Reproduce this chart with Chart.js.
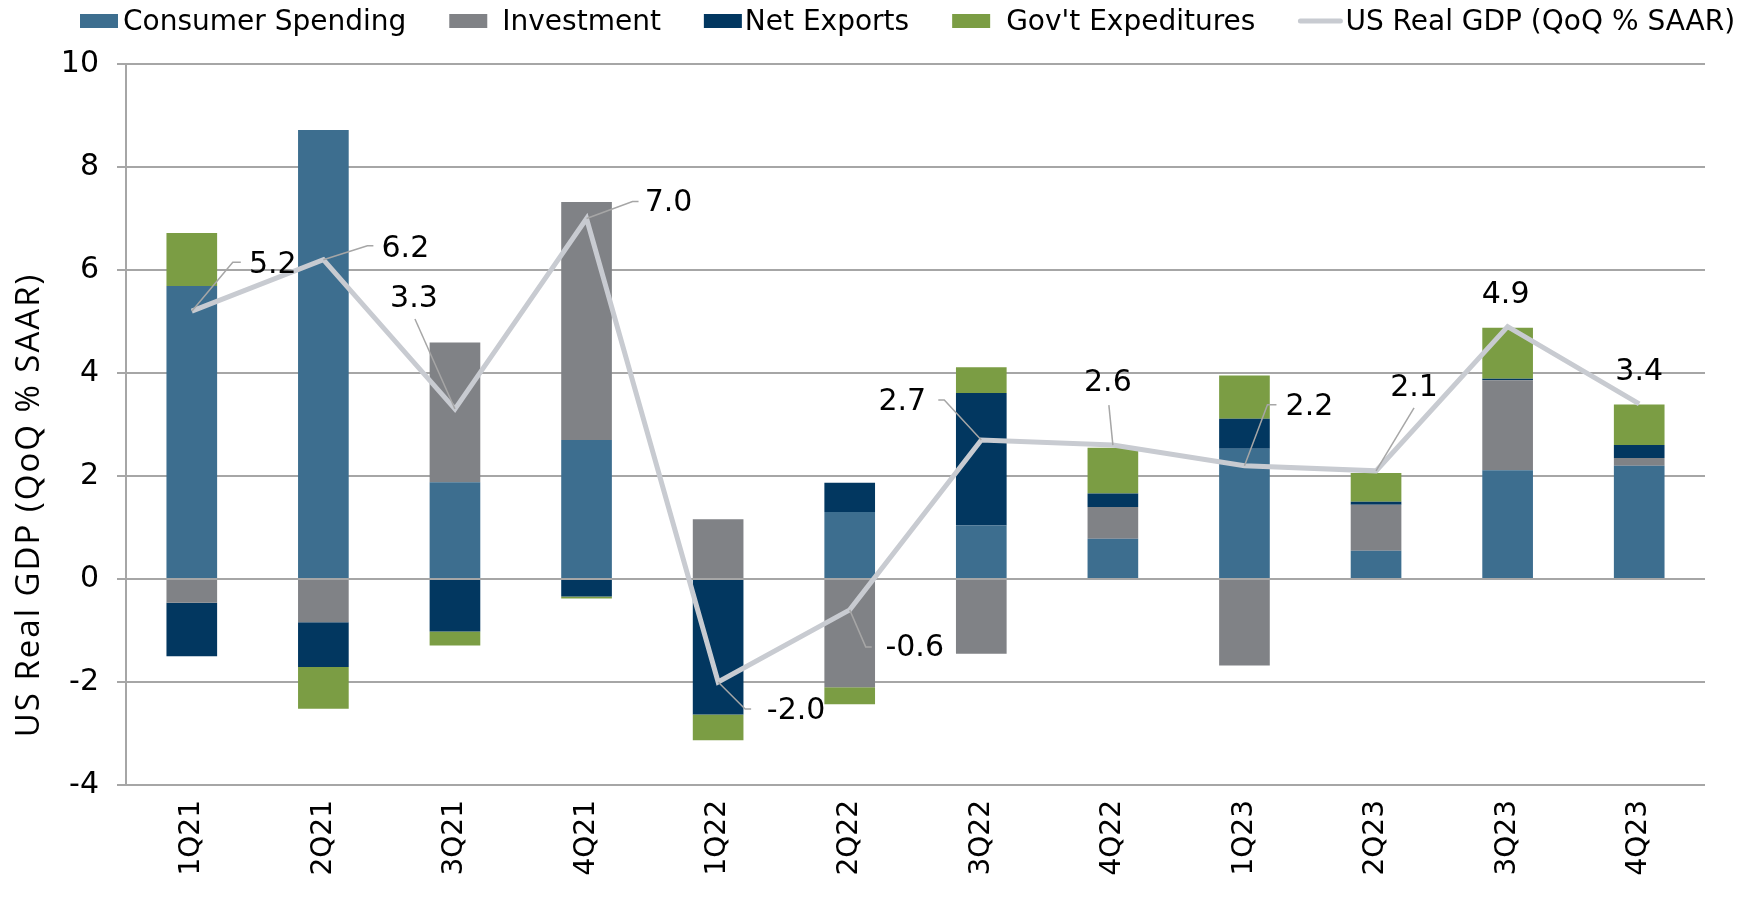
<!DOCTYPE html>
<html>
<head>
<meta charset="utf-8">
<title>US Real GDP contributions</title>
<script src="https://cdn.jsdelivr.net/npm/chart.js@4.4.1/dist/chart.umd.min.js"></script>
<style>
  html, body { margin: 0; padding: 0; background: #fff; }
  canvas { display: block; }
</style>
</head>
<body>
<canvas id="gdpChart" width="1764" height="897"></canvas>
<script>
const quarters = ["1Q21", "2Q21", "3Q21", "4Q21", "1Q22", "2Q22", "3Q22", "4Q22", "1Q23", "2Q23", "3Q23", "4Q23"];

// contributions to growth, percentage points
const consumer = [5.69, 8.72, 1.88, 2.70, 0, 1.30, 1.04, 0.78, 2.53, 0.55, 2.11, 2.20];
const investment = [-0.46, -0.84, 2.71, 4.62, 1.16, -2.10, -1.45, 0.62, -1.68, 0.89, 1.75, 0.15];
const netExports = [-1.04, -0.87, -1.02, -0.34, -2.63, 0.57, 2.57, 0.26, 0.58, 0.06, 0.03, 0.25];
const govSpending = [1.03, -0.81, -0.27, -0.04, -0.50, -0.33, 0.50, 0.89, 0.84, 0.56, 0.99, 0.79];
const realGdp = [5.2, 6.2, 3.3, 7.0, -2.0, -0.6, 2.7, 2.6, 2.2, 2.1, 4.9, 3.4];

const yTicks = [-4, -2, 0, 2, 4, 6, 8, 10];

// where each GDP label sits relative to its point, plus its leader line
const labelSpots = [
  { dx: 81, dy: -46, leader: [[41, -49], [49, -49]] },
  { dx: 82, dy: -10, leader: [[44, -14], [50, -14]] },
  { dx: -41, dy: -110, leader: [[-40, -90]] },
  { dx: 82, dy: -15, leader: [[46, -17], [52, -17]] },
  { dx: 78, dy: 29, leader: [[27, 27], [33, 27]] },
  { dx: 65, dy: 38, leader: [[16, 37], [22, 37]] },
  { dx: -79, dy: -38, leader: [[-37, -40], [-43, -40]] },
  { dx: -5, dy: -62, leader: [[-4, -40]] },
  { dx: 65, dy: -58, leader: [[23, -61], [32, -61]] },
  { dx: 38, dy: -83, leader: [[38, -63]] },
  { dx: -2, dy: -31, leader: null },
  { dx: 0, dy: -32, leader: null },
];

Chart.defaults.font.family = "'DejaVu Sans', Verdana, sans-serif";
Chart.defaults.color = "#000";

const gridGrey = "#a6a6a6";

const legendPlugin = {
  id: "topLegend",
  afterDraw(chart) {
    const ctx = chart.ctx;
    const gaps = [5, 15, 3, 16, 3];
    let x = 80;
    const y = 21;
    ctx.save();
    ctx.font = "28px 'DejaVu Sans'";
    ctx.textBaseline = "middle";
    ctx.textAlign = "left";
    chart.data.datasets.forEach((ds, i) => {
      if (ds.type === "line") {
        ctx.strokeStyle = ds.borderColor;
        ctx.lineWidth = 5;
        ctx.lineCap = "round";
        ctx.beginPath();
        ctx.moveTo(x + 2, y);
        ctx.lineTo(x + 42, y);
        ctx.stroke();
        x += 44;
      } else {
        ctx.fillStyle = ds.backgroundColor;
        ctx.fillRect(x, y - 7, 38, 14);
        x += 38;
      }
      x += gaps[i];
      ctx.fillStyle = "#000";
      ctx.fillText(ds.label, x, y + 2);
      x += ctx.measureText(ds.label).width + 43;
    });
    ctx.restore();
  },
};

const labelPlugin = {
  id: "gdpLabels",
  afterDatasetsDraw(chart) {
    const ctx = chart.ctx;
    const idx = chart.data.datasets.findIndex(d => d.type === "line");
    const meta = chart.getDatasetMeta(idx);
    ctx.save();
    ctx.font = "30px 'DejaVu Sans'";
    ctx.textAlign = "center";
    ctx.textBaseline = "middle";
    meta.data.forEach((pt, i) => {
      const spot = labelSpots[i];
      if (spot.leader) {
        ctx.strokeStyle = gridGrey;
        ctx.lineWidth = 1.5;
        ctx.beginPath();
        ctx.moveTo(pt.x, pt.y);
        spot.leader.forEach(p => ctx.lineTo(pt.x + p[0], pt.y + p[1]));
        ctx.stroke();
      }
      ctx.fillStyle = "#000";
      ctx.fillText(realGdp[i].toFixed(1), pt.x + spot.dx, pt.y + spot.dy);
    });

    // y axis title
    ctx.translate(30, 505);
    ctx.rotate(-Math.PI / 2);
    ctx.font = "33px 'Open Sans'";
    ctx.letterSpacing = "2px";
    ctx.fillText("US Real GDP (QoQ % SAAR)", 0, 0);
    ctx.restore();
  },
};

new Chart(document.getElementById("gdpChart"), {
  type: "bar",
  data: {
    labels: quarters,
    datasets: [
      {
        label: "Consumer Spending",
        data: consumer,
        backgroundColor: "#3d6e8f",
        order: 1,
      },
      {
        label: "Investment",
        data: investment,
        backgroundColor: "#808286",
        order: 1,
      },
      {
        label: "Net Exports",
        data: netExports,
        backgroundColor: "#023760",
        order: 1,
      },
      {
        label: "Gov't Expeditures",
        data: govSpending,
        backgroundColor: "#7b9d44",
        order: 1,
      },
      {
        type: "line",
        label: "US Real GDP (QoQ % SAAR)",
        data: realGdp,
        borderColor: "#c8cbd1",
        backgroundColor: "#c8cbd1",
        borderWidth: 5,
        pointRadius: 0,
        tension: 0,
        stack: "gdp",
        order: 0,
      },
    ],
  },
  options: {
    responsive: false,
    animation: false,
    datasets: {
      bar: { categoryPercentage: 1, barPercentage: 0.385, stack: "parts" },
    },
    layout: { padding: { top: 64, right: 59, left: 0, bottom: 0 } },
    plugins: {
      legend: { display: false },
      tooltip: { enabled: false },
    },
    scales: {
      x: {
        stacked: true,
        grid: { display: false, drawTicks: false },
        border: { display: false },
        ticks: {
          minRotation: 90,
          maxRotation: 90,
          padding: 15,
          font: { size: 28 },
        },
        afterFit(scale) { scale.height = 112; },
      },
      y: {
        stacked: true,
        min: -4,
        max: 10,
        afterBuildTicks(scale) { scale.ticks = yTicks.map(v => ({ value: v })); },
        grid: { color: gridGrey, lineWidth: 2, tickLength: 9 },
        border: { display: true, color: gridGrey, width: 2 },
        ticks: { padding: 18, font: { size: 30 } },
        afterFit(scale) { scale.width = 126; },
      },
    },
  },
  plugins: [legendPlugin, labelPlugin],
});
</script>
</body>
</html>
